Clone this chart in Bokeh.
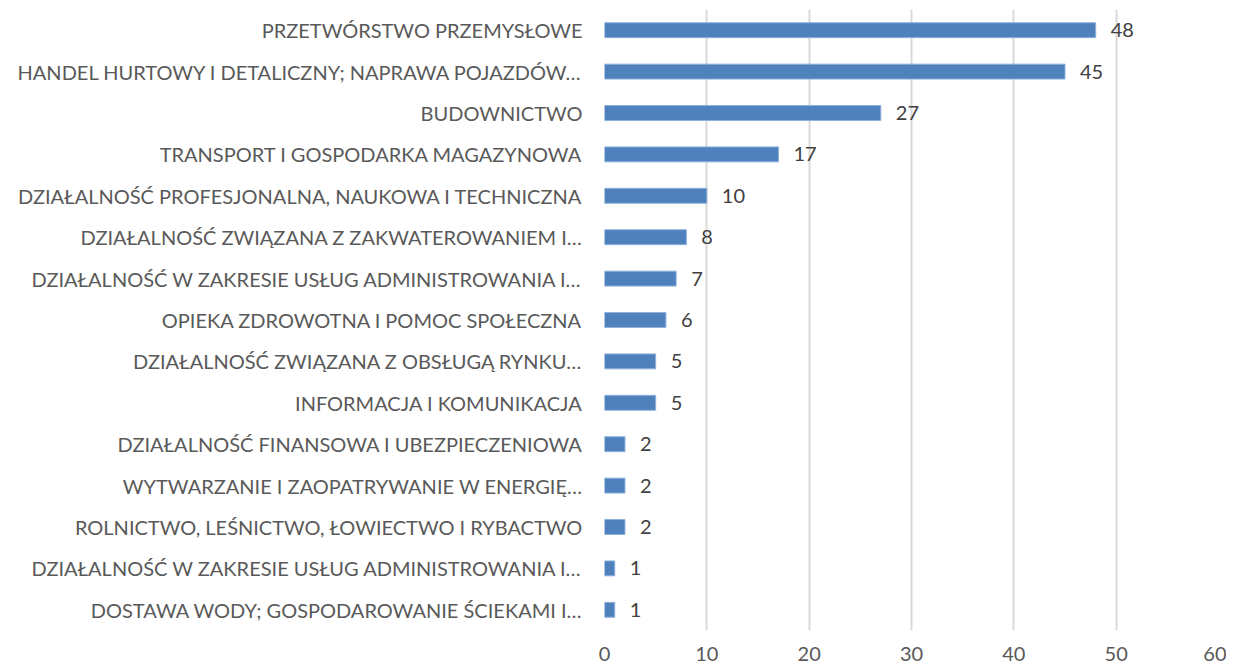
from bokeh.plotting import figure
from bokeh.models import ColumnDataSource, FactorRange, Range1d, FixedTicker
from bokeh.embed import file_html
from bokeh.resources import INLINE

categories = [
    "PRZETWÓRSTWO PRZEMYSŁOWE",
    "HANDEL HURTOWY I DETALICZNY; NAPRAWA POJAZDÓW…",
    "BUDOWNICTWO",
    "TRANSPORT I GOSPODARKA MAGAZYNOWA",
    "DZIAŁALNOŚĆ PROFESJONALNA, NAUKOWA I TECHNICZNA",
    "DZIAŁALNOŚĆ ZWIĄZANA Z ZAKWATEROWANIEM I…",
    "DZIAŁALNOŚĆ W ZAKRESIE USŁUG ADMINISTROWANIA I…",
    "OPIEKA ZDROWOTNA I POMOC SPOŁECZNA",
    "DZIAŁALNOŚĆ ZWIĄZANA Z OBSŁUGĄ RYNKU…",
    "INFORMACJA I KOMUNIKACJA",
    "DZIAŁALNOŚĆ FINANSOWA I UBEZPIECZENIOWA",
    "WYTWARZANIE I ZAOPATRYWANIE W ENERGIĘ…",
    "ROLNICTWO, LEŚNICTWO, ŁOWIECTWO I RYBACTWO",
    "DZIAŁALNOŚĆ W ZAKRESIE USŁUG ADMINISTROWANIA I…\u200b",
    "DOSTAWA WODY; GOSPODAROWANIE ŚCIEKAMI I…",
]
values = [48, 45, 27, 17, 10, 8, 7, 6, 5, 5, 2, 2, 2, 1, 1]
x_ticks = [0, 10, 20, 30, 40, 50, 60]

FONT = "Lato"
src = ColumnDataSource(dict(cat=categories, val=values, lab=[str(v) for v in values]))

p = figure(
    width=1226, height=668,
    y_range=FactorRange(factors=list(reversed(categories)), range_padding=0),
    x_range=Range1d(0, 60),
    output_backend="svg", toolbar_location=None,
    min_border_left=604, min_border_right=8, min_border_top=9, min_border_bottom=38,
)
p.outline_line_color = None
p.background_fill_color = "white"

p.hbar(y="cat", right="val", left=0, height=0.36, source=src,
       fill_color="#4F81BD", line_color="#8db0dc", line_width=1)

p.text(x="val", y="cat", text="lab", source=src, x_offset=15,
       text_align="left", text_baseline="middle",
       text_font_size="20px", text_color="#404040", text_font={"value": FONT})

p.ygrid.grid_line_color = None
p.xgrid.ticker = FixedTicker(ticks=x_ticks)
p.xgrid.grid_line_color = "#d9d9d9"
p.xgrid.grid_line_width = 2

p.xaxis.ticker = FixedTicker(ticks=x_ticks)
for ax in (p.xaxis[0], p.yaxis[0]):
    ax.axis_line_color = None
    ax.major_tick_line_color = None
    ax.minor_tick_line_color = None
    ax.major_tick_out = 0
    ax.major_tick_in = 0
    ax.major_label_text_font = FONT
    ax.major_label_text_font_size = "20px"
    ax.major_label_text_color = "#595959"
p.xaxis.major_label_standoff = 16
p.yaxis.major_label_standoff = 22

open("out.html", "w").write(file_html(p, INLINE))
